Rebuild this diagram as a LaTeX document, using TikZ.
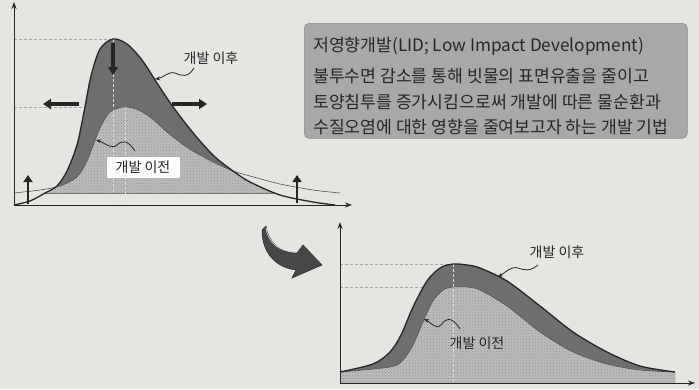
\documentclass[tikz,border=0pt]{standalone}
\usepackage{fontspec}
\setmainfont{Noto Sans CJK KR}
\usetikzlibrary{arrows.meta,patterns}
\definecolor{bg}{HTML}{E7E5E2}
\definecolor{lightfill}{HTML}{BDBCBA}
\definecolor{darkfill}{HTML}{6E6E6E}
\definecolor{ink}{HTML}{262626}
\definecolor{boxfill}{HTML}{A8A8A7}
\definecolor{boxedge}{HTML}{8A8A8A}
\begin{document}
\begin{tikzpicture}[x=1pt,y=-1pt,
  axis/.style={line width=1pt,draw=ink,-{Stealth[length=7pt,width=5pt]}},
  guide/.style={densely dashed,line width=0.5pt,draw=gray!70},
  vguide/.style={densely dashed,line width=0.5pt,draw=white!75!gray},
  fatarrow/.style={line width=3.4pt,draw=ink,-{Triangle[length=8pt,width=10pt]}},
  uparrow/.style={line width=2.8pt,draw=ink,-{Triangle[length=7pt,width=9pt]}},
  pointer/.style={line width=0.8pt,draw=ink,-{Stealth[length=5pt,width=4pt]}},
  label/.style={font=\fontsize{14}{16}\selectfont,text=ink,inner sep=2pt},
  boxtext/.style={font=\fontsize{17.2}{19}\selectfont,text=ink,anchor=west,inner sep=0pt},
  aftercurve/.style={line width=1.3pt,draw=ink},
  beforecurve/.style={line width=0.6pt,draw=ink!80}
]
\fill[bg] (0,0) rectangle (699,389);
\useasboundingbox (0,0) rectangle (699,389);

\def\afterTop{plot[smooth] coordinates {(14,205) (30,201) (45,193) (57,186) (67,171) (77,145) (84,112) (91,76) (100,49) (113,39) (127,44) (142,60) (157,83) (171,104) (186,124) (200,141) (215,157) (233,171) (250,182) (280,195) (313,202) (335,205)}}
\def\beforeTop{plot[smooth] coordinates {(14,193) (40,190) (60,186) (77,177) (87,161) (94,143) (101,126) (110,112) (123,107) (136,109) (150,117) (167,132) (185,146) (200,155) (215,163) (233,171) (250,176) (280,184) (313,190) (340,193)}}
\def\afterBot{plot[smooth] coordinates {(340,372) (373,364) (390,352) (401,335) (413,307) (427,281) (440,268) (453,264) (467,265) (480,268) (507,281) (540,306) (573,332) (607,352) (640,366) (675,372)}}
\def\beforeBot{plot[smooth] coordinates {(340,372) (390,367) (403,360) (413,345) (423,322) (433,301) (443,290) (453,287) (467,287) (480,290) (507,306) (540,332) (573,352) (607,364) (640,370) (675,372)}}

% ---------- top graph ----------
\coordinate (O1) at (14,205);
\coordinate (Y1) at (14,2);
\coordinate (X1) at (352,205);
\coordinate (peakA) at (113,39);
\coordinate (peakB) at (125,107);
\draw[guide] (O1 |- peakA) -- (peakA);
\draw[guide] (O1 |- peakB) -- (peakB);

\begin{scope}
  \clip (0,0) rectangle (699,193);
  \fill[darkfill] \afterTop -- cycle;
\end{scope}
\begin{scope}
  \clip \afterTop -- cycle;
  \fill[lightfill] \beforeTop -- cycle;
  \fill[pattern=crosshatch dots,pattern color=gray!85] \beforeTop -- cycle;
\end{scope}
\draw[vguide] (peakA) -- (O1 -| peakA);
\draw[vguide] (peakB) -- (O1 -| peakB);
\draw[beforecurve] \beforeTop;
\draw[aftercurve] \afterTop;
\draw[axis] (O1) -- (Y1);
\draw[axis] (O1) -- (X1);

\coordinate (dA) at (113,43);   \coordinate (dB) at (113,75);
\coordinate (lA) at (79,104);   \coordinate (lB) at (43,104);
\coordinate (rA) at (172,104);  \coordinate (rB) at (207,104);
\coordinate (u1A) at (28,204);  \coordinate (u1B) at (28,175);
\coordinate (u2A) at (297,203); \coordinate (u2B) at (297,175);
\draw[fatarrow] (dA) -- (dB);
\draw[fatarrow] (lA) -- (lB);
\draw[fatarrow] (rA) -- (rB);
\draw[uparrow] (u1A) -- (u1B);
\draw[uparrow] (u2A) -- (u2B);

\node[label] (after1) at (211,58) {개발 이후};
\coordinate (after1tip) at (155,79);
\draw[pointer] (194,68) .. controls (188,78) and (182,76) .. (175,73) .. controls (168,71) and (163,78) .. (after1tip);
\node[label,fill=white!92!bg,minimum width=73pt,minimum height=21pt] (before1) at (143,167) {개발 이전};
\coordinate (before1tip) at (96,140);
\draw[pointer] (135,151) .. controls (128,140) and (122,140) .. (117,145) .. controls (112,150) and (103,142) .. (before1tip);

% ---------- text box ----------
\node[draw=boxedge,fill=boxfill,rounded corners=5pt,line width=0.6pt,minimum width=383pt,minimum height=115pt,anchor=north west] (box) at (304,23) {};
\node[boxtext] (t1) at (313,46) {저영향개발(LID; Low Impact Development)};
\node[boxtext] (t2) at (313,76) {불투수면 감소를 통해 빗물의 표면유출을 줄이고};
\node[boxtext] (t3) at (313,102) {토양침투를 증가시킴으로써 개발에 따른 물순환과};
\node[boxtext] (t4) at (313,127) {수질오염에 대한 영향을 줄여보고자 하는 개발 기법};

% ---------- curved transition arrow ----------
\fill[ink!85,draw=ink,line width=0.5pt]
  (266,226) .. controls (268,242) and (280,253) .. (297,253)
  -- (303,245) -- (322,265) -- (292,278) -- (296,270)
  .. controls (278,268) and (262,255) .. (262,230) -- cycle;
\draw[white!70!gray,line width=0.7pt] (266,228) .. controls (268,243) and (280,252) .. (296,252);

% ---------- bottom graph ----------
\coordinate (O2) at (340,383);
\coordinate (Y2) at (340,222);
\coordinate (X2) at (695,383);
\coordinate (peakC) at (453,264);
\coordinate (peakD) at (453,287);
\draw[guide] (O2 |- peakC) -- (peakC);
\draw[guide] (O2 |- peakD) -- (peakD);
\fill[darkfill] \afterBot -- (675,383) -- (340,383) -- cycle;
\fill[lightfill] \beforeBot -- (675,383) -- (340,383) -- cycle;
\fill[pattern=crosshatch dots,pattern color=gray!85] \beforeBot -- (675,383) -- (340,383) -- cycle;
\draw[vguide] (peakC) -- (O2 -| peakC);
\draw[beforecurve] \beforeBot;
\draw[aftercurve] \afterBot;
\draw[axis] (O2) -- (Y2);
\draw[axis] (O2) -- (X2);

\node[label] (after2) at (557,252) {개발 이후};
\coordinate (after2tip) at (498,277);
\draw[pointer] (538,265) .. controls (530,272) and (524,270) .. (518,268) .. controls (511,266) and (506,272) .. (after2tip);
\node[label] (before2) at (477,343) {개발 이전};
\coordinate (before2tip) at (424,319);
\draw[pointer] (460,329) .. controls (452,316) and (446,318) .. (441,325) .. controls (436,330) and (430,322) .. (before2tip);
\end{tikzpicture}
\end{document}
